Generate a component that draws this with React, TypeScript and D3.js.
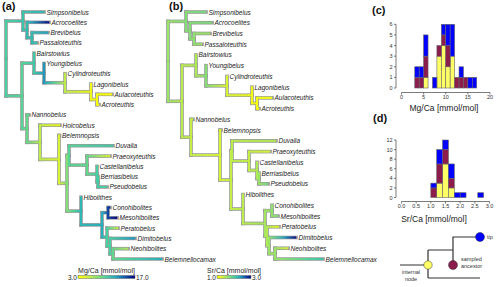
import React from "react";
import * as d3 from "d3";

const tipsMg = [
  "Simpsonibelus", "Acrocoelites", "Brevibelus", "Passaloteuthis", "Bairstowius",
  "Youngibelus", "Cylindroteuthis", "Lagonibelus", "Aulacoteuthis", "Acroteuthis",
  "Nannobelus", "Holcobelus", "Belemnopsis", "Duvalia", "Praeoxyteuthis",
  "Castellanibelus", "Berriasibelus", "Pseudobelus", "Hibolithes", "Conohibolites",
  "Mesohibolites", "Peratobelus", "Dimitobelus", "Neohibolites", "Belemnellocamax",
];
const tipsSr = tipsMg.filter((t) => t !== "Holcobelus");

type Row = [string, string | null, number, number];

// node, parent, time from root, reconstructed Mg/Ca
const mgTree: Row[] = [
  ["root", null, 0, 10],
  ["A", "root", 17, 10.8],
  ["Simpsonibelus", "A", 38, 11.5],
  ["B", "A", 21, 11.2],
  ["Acrocoelites", "B", 43, 16.8],
  ["C", "B", 26, 11.2],
  ["Brevibelus", "C", 42, 12.5],
  ["Passaloteuthis", "C", 31, 11],
  ["D", "root", 16, 9.5],
  ["N1", "D", 28, 10.5],
  ["Bairstowius", "N1", 28, 10.5],
  ["N2", "N1", 38, 12.8],
  ["Youngibelus", "N2", 38, 13],
  ["N3", "N2", 59, 6],
  ["Cylindroteuthis", "N3", 59, 6],
  ["N4", "N3", 85, 3.8],
  ["Lagonibelus", "N4", 85, 3.5],
  ["N5", "N4", 91, 3.5],
  ["Aulacoteuthis", "N5", 106, 3.2],
  ["Acroteuthis", "N5", 93, 4],
  ["F", "D", 21, 9],
  ["Nannobelus", "F", 23, 9.5],
  ["H", "F", 34, 6],
  ["Holcobelus", "H", 54, 4],
  ["I", "H", 53, 5],
  ["Belemnopsis", "I", 53.5, 5],
  ["J", "I", 61, 8],
  ["K", "J", 63, 9.5],
  ["Duvalia", "K", 107, 10.5],
  ["K2", "K", 81, 9],
  ["Praeoxyteuthis", "K2", 104, 5],
  ["K3", "K2", 91, 10],
  ["Castellanibelus", "K3", 91, 10],
  ["K4", "K3", 92, 10.3],
  ["Berriasibelus", "K4", 92, 10.5],
  ["Pseudobelus", "K4", 101, 10],
  ["L", "J", 75, 11.5],
  ["Hibolithes", "L", 75, 11.5],
  ["M", "L", 96, 12],
  ["N", "M", 102, 15],
  ["Conohibolites", "N", 104, 16.5],
  ["Mesohibolites", "N", 111, 17],
  ["O", "M", 101, 10],
  ["Peratobelus", "O", 112, 5.5],
  ["O2", "O", 104, 10],
  ["Dimitobelus", "O2", 129, 13],
  ["P", "O2", 107, 9],
  ["Neohibolites", "P", 122, 6.5],
  ["Belemnellocamax", "P", 156, 12],
];

// node, parent, time from root, reconstructed Sr/Ca
const srTree: Row[] = [
  ["root", null, 0, 1.6],
  ["A", "root", 18, 1.7],
  ["Simpsonibelus", "A", 38, 1.8],
  ["B", "A", 22, 1.7],
  ["Acrocoelites", "B", 44, 1.75],
  ["C", "B", 26, 1.65],
  ["Brevibelus", "C", 42, 1.6],
  ["Passaloteuthis", "C", 34, 1.6],
  ["D", "root", 14, 1.45],
  ["N1", "D", 28, 1.5],
  ["Bairstowius", "N1", 28, 1.5],
  ["N2", "N1", 38, 1.7],
  ["Youngibelus", "N2", 38, 1.85],
  ["N3", "N2", 59, 1.3],
  ["Cylindroteuthis", "N3", 59, 1.2],
  ["N4", "N3", 84, 1.1],
  ["Lagonibelus", "N4", 84, 1.1],
  ["N5", "N4", 89, 1.1],
  ["Aulacoteuthis", "N5", 104, 1.1],
  ["Acroteuthis", "N5", 91, 1.15],
  ["F", "D", 23, 1.4],
  ["Nannobelus", "F", 25, 1.45],
  ["I", "F", 52, 1.3],
  ["Belemnopsis", "I", 53, 1.25],
  ["J", "I", 63, 1.4],
  ["K", "J", 64, 1.45],
  ["Duvalia", "K", 108, 1.5],
  ["K2", "K", 81, 1.4],
  ["Praeoxyteuthis", "K2", 102, 1.3],
  ["K3", "K2", 89, 1.5],
  ["Castellanibelus", "K3", 89, 1.5],
  ["K4", "K3", 91, 1.6],
  ["Berriasibelus", "K4", 91, 1.6],
  ["Pseudobelus", "K4", 100, 1.8],
  ["L", "J", 75, 1.45],
  ["Hibolithes", "L", 75, 1.45],
  ["M", "L", 97, 1.55],
  ["N", "M", 104, 1.65],
  ["Conohibolites", "N", 104, 1.7],
  ["Mesohibolites", "N", 110, 1.7],
  ["O", "M", 99, 1.5],
  ["Peratobelus", "O", 111, 1.2],
  ["O2", "O", 101, 1.6],
  ["Dimitobelus", "O2", 128, 2.95],
  ["P", "O2", 107, 1.6],
  ["Neohibolites", "P", 120, 1.3],
  ["Belemnellocamax", "P", 155, 2.1],
];

const rampStops = ["#ffff00", "#d2f23c", "#8ce070", "#48d0a0", "#22a8c0", "#1050a8", "#000080"];

// histogram (c): Mg/Ca, bins of 1
const mgBinStart = [3, 4, 5, 6, 7, 8, 9, 10, 11, 12, 13, 14, 15, 16];
const mgInternal = [0, 0, 1, 0, 0, 3, 4, 2, 3, 0, 0, 0, 0, 0];
const mgSampled = [1, 1, 2, 0, 0, 1, 1, 2, 0, 1, 1, 1, 0, 0];
const mgTipCount = [1, 1, 2, 0, 1, 0, 1, 2, 3, 0, 1, 0, 1, 1];
const mgXTicks = [0, 5, 10, 15, 20];
const mgYTicks = [0, 1, 2, 3, 4, 5, 6];

// histogram (d): Sr/Ca, bins of 0.2
const srBinStart = [1.0, 1.2, 1.4, 1.6, 1.8, 2.0, 2.2, 2.4, 2.6];
const srInternal = [0, 3, 7, 2, 0, 0, 0, 0, 0];
const srSampled = [2, 4, 3, 2, 0, 0, 0, 0, 0];
const srTipCount = [1, 3, 2, 3, 1, 1, 0, 0, 1];
const srXTicks = [0, 0.5, 1, 1.5, 2, 2.5, 3];
const srYTicks = [0, 2, 4, 6, 8, 10, 12];

const FONT = "'Liberation Sans', Arial, sans-serif";
const C_INT = "#ffff66";
const C_SA = "#8b1c4c";
const C_TIP = "#0000ff";

const ramp = d3.piecewise(d3.interpolateRgb, rampStops);

function TreePanel({ rows, tips, left, domain, barX, title, lo, hi }: any) {
  const root = d3
    .stratify<Row>()
    .id((d) => d[0])
    .parentId((d) => d[1])(rows);
  const x = d3.scaleLinear().domain([0, 160]).range([left, left + 160]);
  const y = d3.scaleLinear().domain([0, tips.length - 1]).range([12, 259]);
  const val = d3.scaleLinear().domain(domain).range([0, 1]).clamp(true);
  const color = (v: number) => ramp(val(v));

  const pos = new Map<string, { x: number; y: number; v: number }>();
  root.eachAfter((n: any) => {
    let ny;
    if (n.children) {
      const ys = n.children.map((c: any) => pos.get(c.id)!.y);
      ny = (d3.min(ys)! + d3.max(ys)!) / 2;
    } else {
      ny = y(tips.indexOf(n.id));
    }
    pos.set(n.id, { x: x(n.data[2]), y: ny, v: n.data[3] });
  });

  const outlines: any[] = [];
  const verts: any[] = [];
  const pieces: any[] = [];
  root.descendants().forEach((n: any) => {
    if (!n.parent) return;
    const p = pos.get(n.parent.id)!;
    const c = pos.get(n.id)!;
    outlines.push({ x1: p.x, x2: p.x, y1: p.y, y2: c.y });
    if (c.x > p.x) outlines.push({ x1: p.x, x2: c.x, y1: c.y, y2: c.y });
    verts.push({ x1: p.x, x2: p.x, y1: p.y, y2: c.y, s: color(p.v) });
    const steps = Math.max(1, Math.ceil((c.x - p.x) / 1.5));
    if (c.x > p.x) {
      for (let i = 0; i < steps; i++) {
        const f0 = i / steps;
        const f1 = (i + 1) / steps;
        pieces.push({
          x1: p.x + (c.x - p.x) * f0,
          x2: p.x + (c.x - p.x) * f1,
          y: c.y,
          s: color(p.v + (c.v - p.v) * ((f0 + f1) / 2)),
        });
      }
    }
  });
  const leaves = root.leaves().map((n: any) => ({ id: n.id, ...pos.get(n.id)! }));

  const gid = "grad" + left;
  const gstops = d3.range(0, 1.0001, 0.05);

  return (
    <g>
      <defs>
        <linearGradient id={gid} x1="0" x2="1" y1="0" y2="0">
          {gstops.map((t) => (
            <stop key={t} offset={t} stopColor={ramp(t)} />
          ))}
        </linearGradient>
      </defs>
      {outlines.map((d, i) => (
        <line key={"o" + i} x1={d.x1} x2={d.x2} y1={d.y1} y2={d.y2} stroke="#999" strokeWidth={3.6} strokeLinecap="square" />
      ))}
      {verts.map((d, i) => (
        <line key={"v" + i} x1={d.x1} x2={d.x2} y1={d.y1} y2={d.y2} stroke={d.s} strokeWidth={2.1} strokeLinecap="square" />
      ))}
      {pieces.map((d, i) => (
        <line key={"h" + i} x1={d.x1} x2={d.x2 + 0.2} y1={d.y} y2={d.y} stroke={d.s} strokeWidth={2.1} />
      ))}
      {leaves.map((d) => (
        <text key={d.id} x={d.x + 2.5} y={d.y} dominantBaseline="central" fontSize={6.5} fontStyle="italic" fill="#222" fontFamily={FONT}>
          {d.id}
        </text>
      ))}
      <text x={(barX[0] + barX[1]) / 2} y={273} textAnchor="middle" fontSize={7} fill="#222" fontFamily={FONT}>
        {title}
      </text>
      <rect x={barX[0]} y={275.5} width={barX[1] - barX[0]} height={3} fill={`url(#${gid})`} stroke="#666" strokeWidth={0.5} />
      <text x={barX[0] - 1} y={277.5} dominantBaseline="central" textAnchor="end" fontSize={6.5} fill="#222" fontFamily={FONT}>
        {lo}
      </text>
      <text x={barX[1] + 1} y={277.5} dominantBaseline="central" fontSize={6.5} fill="#222" fontFamily={FONT}>
        {hi}
      </text>
    </g>
  );
}

function Hist({ starts, binW, internal, sampled, tips, xDomain, xRange, yDomain, yRange, xTicks, yTicks, axisY, axisX, fmt, title, titleX, titleY }: any) {
  const x = d3.scaleLinear().domain(xDomain).range(xRange);
  const y = d3.scaleLinear().domain(yDomain).range(yRange);
  const data = starts.map((s: number, i: number) => ({ s, internal: internal[i], sampled: sampled[i], tip: tips[i] }));
  const series = d3.stack<any>().keys(["internal", "sampled", "tip"])(data);
  const fills = [C_INT, C_SA, C_TIP];
  return (
    <g fontFamily={FONT}>
      {series.map((ser, k) =>
        ser.map((d: any, i: number) =>
          d[1] > d[0] ? (
            <rect
              key={k + "-" + i}
              x={x(d.data.s)}
              width={x(d.data.s + binW) - x(d.data.s)}
              y={y(d[1])}
              height={y(d[0]) - y(d[1])}
              fill={fills[k]}
              stroke="#666"
              strokeWidth={0.6}
            />
          ) : null
        )
      )}
      <line x1={x(xTicks[0])} x2={x(xTicks[xTicks.length - 1])} y1={axisY} y2={axisY} stroke="#444" strokeWidth={0.7} />
      {xTicks.map((t: number) => (
        <g key={"x" + t}>
          <line x1={x(t)} x2={x(t)} y1={axisY} y2={axisY + 2} stroke="#444" strokeWidth={0.7} />
          <text x={x(t)} y={axisY + 6} textAnchor="middle" fontSize={5.5} fill="#333">
            {fmt(t)}
          </text>
        </g>
      ))}
      <line x1={axisX} x2={axisX} y1={y(yTicks[0])} y2={y(yTicks[yTicks.length - 1])} stroke="#444" strokeWidth={0.7} />
      {yTicks.map((t: number) => (
        <g key={"y" + t}>
          <line x1={axisX - 2} x2={axisX} y1={y(t)} y2={y(t)} stroke="#444" strokeWidth={0.7} />
          <text x={axisX - 3.5} y={y(t)} dominantBaseline="central" textAnchor="end" fontSize={5.5} fill="#333">
            {t}
          </text>
        </g>
      ))}
      <text x={titleX} y={titleY} textAnchor="middle" fontSize={8.5} fill="#222">
        {title}
      </text>
    </g>
  );
}

function Legend() {
  const st = { stroke: "#333", strokeWidth: 1.2, fill: "none" };
  return (
    <g fontFamily={FONT} fontSize={5.5} fill="#333">
      <path d="M400,265 H428 M428,250 V278 M428,250 H453 V237 H480 M453,250 V265 M428,278 H480" {...st} />
      <circle cx={428} cy={265} r={4.2} fill={C_INT} stroke="#333" strokeWidth={0.5} />
      <circle cx={453} cy={265} r={4.5} fill={C_SA} stroke="#333" strokeWidth={0.5} />
      <circle cx={480} cy={237} r={4.5} fill={C_TIP} stroke="#333" strokeWidth={0.5} />
      <text x={487} y={239}>tip</text>
      <text x={461} y={261}>sampled</text>
      <text x={461} y={268}>ancestor</text>
      <text x={411} y={274} textAnchor="middle">internal</text>
      <text x={411} y={281} textAnchor="middle">node</text>
    </g>
  );
}

export default function App() {
  return (
    <svg width={500} height={287} style={{ position: "absolute", left: 0, top: 0, background: "#fff" }}>
      <style>{`body{margin:0}`}</style>
      <rect width={500} height={287} fill="#fff" />
      <TreePanel rows={mgTree} tips={tipsMg} left={6} domain={[3, 17]} barX={[78, 135]} title="Mg/Ca [mmol/mol]" lo="3.0" hi="17.0" />
      <TreePanel rows={srTree} tips={tipsSr} left={168} domain={[1, 3]} barX={[217, 251]} title="Sr/Ca [mmol/mol]" lo="1.0" hi="3.0" />
      <Hist
        starts={mgBinStart}
        binW={1}
        internal={mgInternal}
        sampled={mgSampled}
        tips={mgTipCount}
        xDomain={[0, 20]}
        xRange={[401.5, 490]}
        yDomain={[0, 6]}
        yRange={[88, 24.3]}
        xTicks={mgXTicks}
        yTicks={mgYTicks}
        axisY={92.5}
        axisX={396}
        fmt={(t: number) => String(t)}
        title="Mg/Ca [mmol/mol]"
        titleX={444}
        titleY={111}
      />
      <Hist
        starts={srBinStart}
        binW={0.2}
        internal={srInternal}
        sampled={srSampled}
        tips={srTipCount}
        xDomain={[0, 3]}
        xRange={[401.5, 489.5]}
        yDomain={[0, 12]}
        yRange={[197.5, 140]}
        xTicks={srXTicks}
        yTicks={srYTicks}
        axisY={201.5}
        axisX={396}
        fmt={(t: number) => t.toFixed(1)}
        title="Sr/Ca [mmol/mol]"
        titleX={434}
        titleY={222}
      />
      <Legend />
      <g fontFamily={FONT} fontWeight="bold" fontSize={11} fill="#111">
        <text x={2} y={10}>(a)</text>
        <text x={169} y={10}>(b)</text>
        <text x={372} y={14}>(c)</text>
        <text x={373} y={122}>(d)</text>
      </g>
    </svg>
  );
}
